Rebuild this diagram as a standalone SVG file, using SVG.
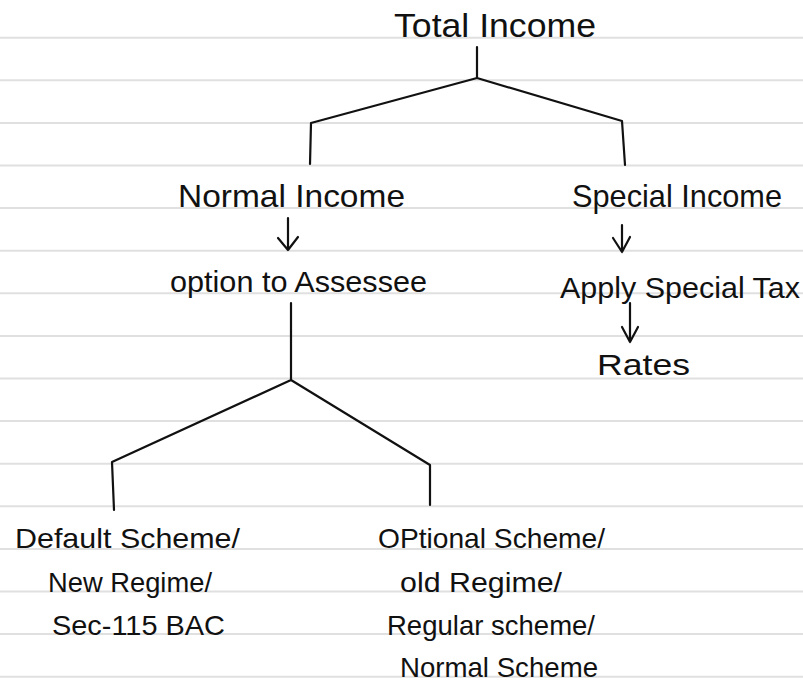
<svg xmlns="http://www.w3.org/2000/svg" width="803" height="682" viewBox="0 0 803 682">
<style>
.rule{stroke:#e0e0e0;stroke-width:2}
.ln{fill:none;stroke:#111;stroke-width:2.2;stroke-linecap:round;stroke-linejoin:round}
text{font-family:"Liberation Sans","DejaVu Sans",sans-serif;fill:#111;font-weight:normal}
</style>
<rect width="803" height="682" fill="#ffffff"/>
<g id="paper-rules">
<line class="rule" x1="0" y1="37.7" x2="803" y2="37.7"/>
<line class="rule" x1="0" y1="80.3" x2="803" y2="80.3"/>
<line class="rule" x1="0" y1="122.9" x2="803" y2="122.9"/>
<line class="rule" x1="0" y1="165.5" x2="803" y2="165.5"/>
<line class="rule" x1="0" y1="208.1" x2="803" y2="208.1"/>
<line class="rule" x1="0" y1="250.7" x2="803" y2="250.7"/>
<line class="rule" x1="0" y1="293.3" x2="803" y2="293.3"/>
<line class="rule" x1="0" y1="335.9" x2="803" y2="335.9"/>
<line class="rule" x1="0" y1="378.5" x2="803" y2="378.5"/>
<line class="rule" x1="0" y1="421.1" x2="803" y2="421.1"/>
<line class="rule" x1="0" y1="463.7" x2="803" y2="463.7"/>
<line class="rule" x1="0" y1="506.3" x2="803" y2="506.3"/>
<line class="rule" x1="0" y1="548.9" x2="803" y2="548.9"/>
<line class="rule" x1="0" y1="591.5" x2="803" y2="591.5"/>
<line class="rule" x1="0" y1="634.1" x2="803" y2="634.1"/>
<line class="rule" x1="0" y1="676.7" x2="803" y2="676.7"/>
</g>
<g id="connectors">
<path class="ln" d="M477 47 L477 78 M477 78 L311 123 L310 164 M477 78 L622 121 L625 165"/>
<path class="ln" d="M288 218 L288 250 M278 238 L288 250 L298 237"/>
<path class="ln" d="M622 225 L622 252 M613 238 L622 252 L630 237"/>
<path class="ln" d="M630 303 L630 342 M622 327 L630 342 L638 327"/>
<path class="ln" d="M291 303 L291 380 M291 380 L112 462 L114 510 M291 380 L430 465 L430 505"/>
</g>
<g id="total-income"><text x="394" y="37" font-size="34" textLength="202" lengthAdjust="spacingAndGlyphs">Total Income</text></g>
<g id="normal-income"><text x="178" y="207" font-size="32" textLength="227" lengthAdjust="spacingAndGlyphs">Normal Income</text></g>
<g id="special-income"><text x="572" y="207" font-size="32" textLength="210" lengthAdjust="spacingAndGlyphs">Special Income</text></g>
<g id="option-to-assessee"><text x="170" y="292" font-size="30" textLength="257" lengthAdjust="spacingAndGlyphs">option to Assessee</text></g>
<g id="apply-special-tax"><text x="560" y="298" font-size="30" textLength="240" lengthAdjust="spacingAndGlyphs">Apply Special Tax</text></g>
<g id="rates"><text x="597" y="375" font-size="30" textLength="93" lengthAdjust="spacingAndGlyphs">Rates</text></g>
<g id="default-scheme">
<text x="15" y="548" font-size="28" textLength="225" lengthAdjust="spacingAndGlyphs">Default Scheme/</text>
<text x="48" y="592" font-size="28" textLength="164" lengthAdjust="spacingAndGlyphs">New Regime/</text>
<text x="52" y="635" font-size="28" textLength="173" lengthAdjust="spacingAndGlyphs">Sec-115 BAC</text>
</g>
<g id="optional-scheme">
<text x="378" y="548" font-size="28" textLength="227" lengthAdjust="spacingAndGlyphs">OPtional Scheme/</text>
<text x="400" y="592" font-size="28" textLength="162" lengthAdjust="spacingAndGlyphs">old Regime/</text>
<text x="387" y="635" font-size="28" textLength="208" lengthAdjust="spacingAndGlyphs">Regular scheme/</text>
<text x="400" y="677" font-size="28" textLength="198" lengthAdjust="spacingAndGlyphs">Normal Scheme</text>
</g>
</svg>
